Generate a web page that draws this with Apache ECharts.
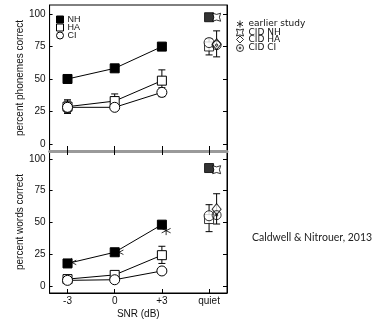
<!DOCTYPE html>
<html><head><meta charset="utf-8">
<script src="https://cdn.jsdelivr.net/npm/echarts@6/dist/echarts.min.js"></script>
<style>html,body{margin:0;padding:0;background:#fff}#c{width:373px;height:320px}</style>
</head><body><div id="c"></div>
<script>
const categories = ['-3', '0', '+3', 'quiet'];
const ticksPct = [0, 25, 50, 75, 100];
// phonemes (top panel)
const phonNH = [50, 58.2, 74.9, 97.5];
const phonHA = [28.7, 33, 48.7, 75];
const phonCI = [28.2, 28.2, 39.7, 78];
const phonHAerr = [[24, 34], [28, 38.5], [41, 57], [68.5, 81]];
const phonCIerr = [[23.5, 33], null, [36.4, 43.3], null];
const phonCID = { NH: 97.5, HA: 76.7, CI: 76 };
const phonCIDerr = [67, 87];
// words (bottom panel)
const wordNH = [17.8, 26.6, 48.3, 92.8];
const wordHA = [5.5, 8.8, 24.3, 52.7];
const wordCI = [4.5, 5, 11.9, 55.3];
const wordHAerr = [null, null, [17.8, 31.3], [42.8, 64]];
const wordEarlier = [18.6, 26.6, 43.6];
const wordCID = { NH: 91.5, HA: 60.5, CI: 55.8 };
const wordCIDerr = [48.8, 72.6];

const CID_OFF = 0.16, EARLY_OFF = 0.09;
const FONT = 'Liberation Sans';
const P_AST = 'path://M0,-5L0,5M-4.33,-2.5L4.33,2.5M-4.33,2.5L4.33,-2.5';
const P_CIDNH = 'path://M-5,-5Q0,-2 5,-5Q2,0 5,5Q0,2 -5,5Q-2,0 -5,-5Z';
const P_CDOT = 'path://M0,-5A5,5 0 1,1 0,5A5,5 0 1,1 0,-5ZM0,-1.3A1.3,1.3 0 1,1 0,1.3A1.3,1.3 0 1,1 0,-1.3Z';

const filled = { color: '#000', borderColor: '#000', borderWidth: 1 };
const open = { color: '#fff', borderColor: '#000', borderWidth: 1 };
const strokeOnly = { color: 'none', borderColor: '#000', borderWidth: 1 };

function linePts(arr) { return arr.slice(0, 3).map((v, i) => [i, v]); }
function errData(list, off) {
  const out = [];
  list.forEach((e, i) => { if (e) out.push([i + (off || 0), e[0], e[1]]); });
  return out;
}
function errSeries(data, gi) {
  return {
    type: 'custom', xAxisIndex: gi, yAxisIndex: gi * 2, z: 1, silent: true,
    encode: { x: 0, y: [1, 2] }, data: data,
    renderItem: function (params, api) {
      const x = api.value(0), lo = api.value(1), hi = api.value(2);
      const a = api.coord([x, hi]), b = api.coord([x, lo]);
      const w = 3.5, st = { stroke: '#000', lineWidth: 1 };
      return { type: 'group', children: [
        { type: 'line', shape: { x1: a[0], y1: a[1], x2: b[0], y2: b[1] }, style: st },
        { type: 'line', shape: { x1: a[0] - w, y1: a[1], x2: a[0] + w, y2: a[1] }, style: st },
        { type: 'line', shape: { x1: b[0] - w, y1: b[1], x2: b[0] + w, y2: b[1] }, style: st }
      ] };
    }
  };
}
function panelSeries(gi, NH, HA, CI, cid, extra) {
  const y = gi * 2;
  const common = { xAxisIndex: gi, yAxisIndex: y, z: 3, animation: false };
  const s = [
    Object.assign({ type: 'line', name: 'NH', data: linePts(NH), symbol: 'rect', symbolSize: 9, itemStyle: filled, lineStyle: { color: '#000', width: 1 } }, common),
    Object.assign({ type: 'line', name: 'HA', data: linePts(HA), symbol: 'rect', symbolSize: 9, itemStyle: open, lineStyle: { color: '#000', width: 1 } }, common),
    Object.assign({ type: 'line', name: 'CI', data: linePts(CI), symbol: 'circle', symbolSize: 10, itemStyle: open, lineStyle: { color: '#000', width: 1 } }, common),
    Object.assign({ type: 'scatter', name: 'NH', data: [[3, NH[3]]], symbol: 'rect', symbolSize: 9, itemStyle: filled }, common),
    Object.assign({ type: 'scatter', name: 'HA', data: [[3, HA[3]]], symbol: 'rect', symbolSize: 9, itemStyle: open }, common),
    Object.assign({ type: 'scatter', name: 'CI', data: [[3, CI[3]]], symbol: 'circle', symbolSize: 10, itemStyle: open }, common),
    Object.assign({ type: 'scatter', name: 'CID HA', data: [[3 + CID_OFF, cid.HA]], symbol: 'diamond', symbolSize: [9, 11], itemStyle: open }, common),
    Object.assign({ type: 'scatter', name: 'CID CI', data: [[3 + CID_OFF, cid.CI]], symbol: P_CDOT, symbolSize: 9, itemStyle: strokeOnly }, common),
    Object.assign({ type: 'scatter', name: 'CID NH', data: [[3 + CID_OFF, cid.NH]], symbol: P_CIDNH, symbolSize: 8, itemStyle: open }, common)
  ];
  return s.concat(extra || []);
}

const chart = echarts.init(document.getElementById('c'), null, { renderer: 'canvas' });
const yBase = function (gi, min, max, name) {
  return [
    { gridIndex: gi, type: 'value', min: min, max: max, position: 'left',
      axisLine: { show: true, onZero: false, lineStyle: { color: '#000', width: 1 } },
      axisTick: { show: true, inside: true, length: 3, customValues: ticksPct, lineStyle: { color: '#000' } },
      axisLabel: { customValues: ticksPct, fontSize: 10, color: '#111', margin: 4, fontFamily: FONT },
      splitLine: { show: false },
      name: name, nameLocation: 'middle', nameRotate: 90, nameGap: 24,
      nameTextStyle: { fontSize: 10, color: '#111', fontFamily: FONT } },
    { gridIndex: gi, type: 'value', min: min, max: max, position: 'right',
      axisLine: { show: true, onZero: false, lineStyle: { color: '#000', width: 1 } },
      axisTick: { show: true, inside: true, length: 4, customValues: ticksPct, lineStyle: { color: '#000' } },
      axisLabel: { show: false }, splitLine: { show: false } }
  ];
};
const xTickVals = [0, 1, 2, 3];
const option = {
  animation: false,
  textStyle: { fontFamily: FONT },
  grid: [
    { left: 40, top: 5, width: 187, height: 146, show: true, borderColor: '#000', borderWidth: 1 },
    { left: 40, top: 151, width: 187, height: 144, show: true, borderColor: '#000', borderWidth: 1 }
  ],
  xAxis: [
    { gridIndex: 0, type: 'value', min: -0.38, max: 3.38, position: 'bottom',
      axisLine: { show: true, onZero: false, lineStyle: { color: '#9a9a9a', width: 3 } },
      axisTick: { show: true, inside: true, length: 5, customValues: xTickVals, lineStyle: { color: '#000' } },
      axisLabel: { show: false }, splitLine: { show: false } },
    { gridIndex: 1, type: 'value', min: -0.38, max: 3.38, position: 'bottom',
      axisLine: { show: true, onZero: false, lineStyle: { color: '#000', width: 1 } },
      axisTick: { show: true, inside: true, length: 4, customValues: xTickVals, lineStyle: { color: '#000' } },
      axisLabel: { customValues: xTickVals, formatter: v => categories[Math.round(v)], fontSize: 10, color: '#111', margin: 3, fontFamily: FONT },
      splitLine: { show: false },
      name: 'SNR (dB)', nameLocation: 'middle', nameGap: 16,
      nameTextStyle: { fontSize: 10, color: '#111', fontFamily: FONT } },
    { gridIndex: 1, type: 'value', min: -0.38, max: 3.38, position: 'top',
      axisLine: { show: false, onZero: false },
      axisTick: { show: true, inside: true, length: 4, customValues: xTickVals, lineStyle: { color: '#000' } },
      axisLabel: { show: false }, splitLine: { show: false } }
  ],
  yAxis: yBase(0, -5.4, 106.9, 'percent phonemes correct').concat(yBase(1, -5.43, 106.2, 'percent words correct')),
  legend: [
    { orient: 'vertical', left: 51, top: 10, itemWidth: 7, itemHeight: 7, itemGap: -1, selectedMode: false,
      textStyle: { fontSize: 9, color: '#111', fontFamily: FONT, padding: [0, 0, 0, -1] },
      data: [
        { name: 'NH', icon: 'rect', itemStyle: filled },
        { name: 'HA', icon: 'rect', itemStyle: open },
        { name: 'CI', icon: 'circle', itemStyle: open }
      ] },
    { orient: 'vertical', left: 229, top: 13, itemWidth: 7, itemHeight: 7, itemGap: -2, selectedMode: false,
      textStyle: { fontSize: 9, color: '#111', fontFamily: 'DejaVu Sans' },
      data: [
        { name: 'earlier study', icon: P_AST, itemStyle: strokeOnly },
        { name: 'CID NH', icon: P_CIDNH, itemStyle: open },
        { name: 'CID HA', icon: 'diamond', itemStyle: open },
        { name: 'CID CI', icon: P_CDOT, itemStyle: strokeOnly }
      ] }
  ],
  title: { text: 'Caldwell & Nitrouer, 2013', left: 247, top: 227,
    textStyle: { fontSize: 10.5, fontWeight: 'normal', color: '#222', fontFamily: 'Lato' } },
  series: [
    errSeries(errData(phonHAerr), 0),
    errSeries(errData(phonCIerr), 0),
    errSeries([[3 + CID_OFF, phonCIDerr[0], phonCIDerr[1]]], 0),
    errSeries(errData(wordHAerr), 1),
    errSeries([[3 + CID_OFF, wordCIDerr[0], wordCIDerr[1]]], 1)
  ].concat(
    panelSeries(0, phonNH, phonHA, phonCI, phonCID),
    panelSeries(1, wordNH, wordHA, wordCI, wordCID, [
      { type: 'scatter', name: 'earlier study', xAxisIndex: 1, yAxisIndex: 2, z: 4,
        data: wordEarlier.map((v, i) => [i + EARLY_OFF, v]), symbol: P_AST, symbolSize: 9, itemStyle: strokeOnly }
    ])
  )
};
chart.setOption(option);
</script></body></html>
